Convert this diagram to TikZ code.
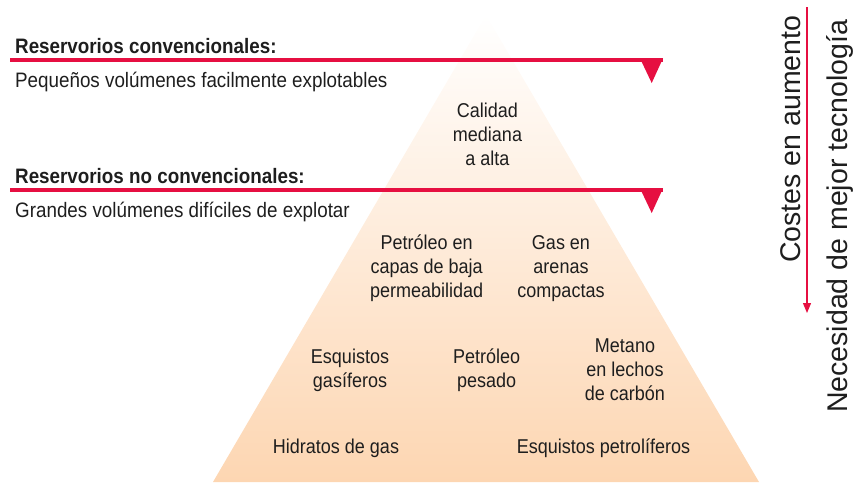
\documentclass[tikz,border=0pt]{standalone}
\usepackage{fontspec}
\setmainfont{Liberation Sans}[FakeStretch=0.9]
\newfontfamily\rotfont{Liberation Sans}
\usetikzlibrary{arrows.meta}
\definecolor{redline}{RGB}{230,15,65}
\definecolor{peach}{RGB}{253,214,178}
\definecolor{txt}{RGB}{30,30,30}
\begin{document}
\begin{tikzpicture}[x=1pt,y=-1pt,
  head/.style={anchor=base west, inner sep=0pt, font=\fontsize{20.9}{24}\selectfont\bfseries, text=txt},
  sub/.style={anchor=base west, inner sep=0pt, font=\fontsize{20.9}{24}\selectfont, text=txt},
  lbl/.style={align=center, anchor=base, inner sep=0pt, font=\fontsize{20}{24}\selectfont, text=txt},
  redbar/.style={draw=redline, line width=3.5pt},
  marker/.style={fill=redline},
  side/.style={rotate=90, anchor=base west, inner sep=0pt, font=\rotfont\fontsize{28.5}{30}\selectfont, text=txt},
  sidearrow/.style={draw=redline, line width=1.2pt, -{Triangle[width=8pt,length=10pt]}}]
\useasboundingbox (0,0) rectangle (853,482);
% pyramid
\coordinate (apex) at (486,15);
\coordinate (bl) at (213,482);
\coordinate (br) at (759,482);
\shade[top color=white, bottom color=peach] (apex) -- (br) -- (bl) -- cycle;
% red bars
\coordinate (l1s) at (10,60);
\coordinate (l1e) at (663,60);
\draw[redbar] (l1s) -- (l1e);
\fill[marker] (640,58.3) -- (663,58.3) -- (651.7,83) -- cycle;
\coordinate (l2s) at (10,190);
\coordinate (l2e) at (663,190);
\draw[redbar] (l2s) -- (l2e);
\fill[marker] (640,188.3) -- (663,188.3) -- (651.7,213) -- cycle;
% left texts
\node[head] (h1) at (15,53) {Reservorios convencionales:};
\node[sub] (s1) at (15,87.5) {Pequeños volúmenes facilmente explotables};
\node[head] (h2) at (15,183) {Reservorios no convencionales:};
\node[sub] (s2) at (15,217) {Grandes volúmenes difíciles de explotar};
% pyramid labels (anchored at the baseline of the last line)
\node[lbl] (cal) at (487.5,165) {Calidad\\mediana\\a alta};
\node[lbl] (pet) at (426.7,297) {Petróleo en\\capas de baja\\permeabilidad};
\node[lbl] (gas) at (561,297) {Gas en\\arenas\\compactas};
\node[lbl] (esg) at (350,387) {Esquistos\\gasíferos};
\node[lbl] (pes) at (486.7,387) {Petróleo\\pesado};
\node[lbl] (met) at (625,400) {Metano\\en lechos\\de carbón};
\node[lbl] (hid) at (336,453) {Hidratos de gas};
\node[lbl] (esp) at (603.5,453) {Esquistos petrolíferos};
% side
\coordinate (a1) at (807,7);
\coordinate (a2) at (807,313);
\draw[sidearrow] (a1) -- (a2);
\node[side] (cost) at (800.6,263) {Costes en aumento};
\node[side] (nec) at (847,413) {Necesidad de mejor tecnología};
\end{tikzpicture}
\end{document}
